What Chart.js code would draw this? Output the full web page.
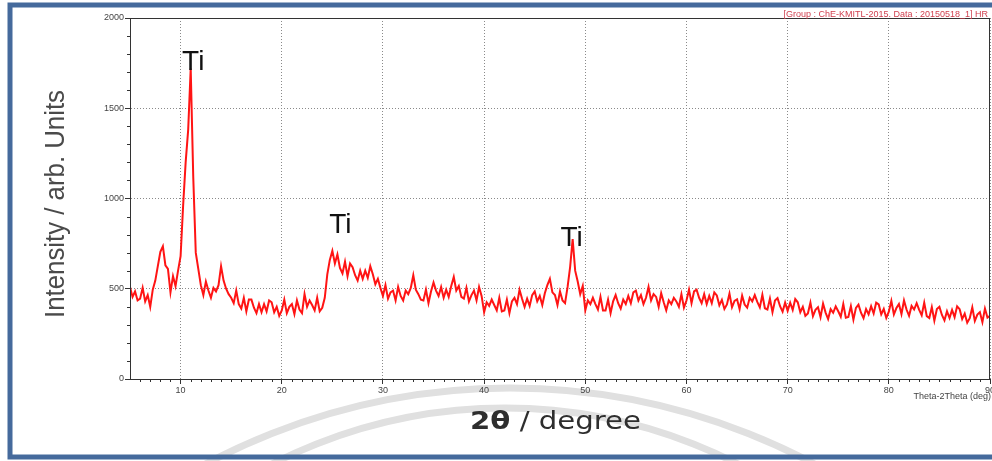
<!DOCTYPE html>
<html>
<head>
<meta charset="utf-8">
<script src="https://cdn.jsdelivr.net/npm/chart.js@4.4.1/dist/chart.umd.min.js"></script>
<style>
  html, body { margin: 0; padding: 0; background: #fff; }
  #wrap { width: 992px; height: 461px; }
</style>
</head>
<body>
<div id="wrap"><canvas id="xrdChart" width="992" height="461"></canvas></div>
<script>
'use strict';

// *********** DATA ***********
let angleStart = 5;
let angleStep = 0.25;

// intensity, 4 points per degree, 5.00 -> 90.00
let intensity = [
  510, 455, 485, 435,   // 5
  445, 505, 430, 465,   // 6
  400, 495, 545, 625,   // 7
  705, 735, 630, 610,   // 8
  480, 570, 515, 600,   // 9
  680, 960, 1200, 1380, // 10
  1720, 1120, 700, 610, // 11
  520, 465, 540, 490,   // 12
  450, 505, 485, 520,   // 13
  625, 545, 500, 470,   // 14
  450, 420, 490, 415,   // 15
  390, 450, 375, 440,   // 16
  440, 395, 365, 415,   // 17
  370, 415, 375, 435,   // 18
  425, 370, 400, 350,   // 19
  380, 440, 365, 400,   // 20
  415, 360, 435, 385,   // 21
  365, 470, 400, 435,   // 22
  410, 380, 450, 375,   // 23
  395, 450, 580, 660,   // 24
  710, 640, 690, 615,   // 25
  585, 650, 570, 640,   // 26
  620, 575, 545, 600,   // 27
  555, 600, 560, 625,   // 28
  580, 525, 555, 505,   // 29
  460, 520, 445, 480,   // 30
  490, 435, 510, 460,   // 31
  435, 490, 470, 505,   // 32
  575, 495, 470, 440,   // 33
  435, 495, 420, 485,   // 34
  535, 490, 460, 510,   // 35
  450, 495, 455, 515,   // 36
  565, 490, 515, 455,   // 37
  445, 505, 430, 465,   // 38
  490, 435, 510, 460,   // 39
  370, 425, 405, 440,   // 40
  410, 380, 450, 375,   // 41
  380, 440, 365, 430,   // 42
  450, 415, 495, 445,   // 43
  400, 445, 405, 465,   // 44
  485, 430, 460, 410,   // 45
  475, 520, 555, 480,   // 46
  465, 410, 485, 435,   // 47
  420, 510, 620, 775,   // 48
  600, 540, 470, 515,   // 49
  380, 435, 415, 450,   // 50
  415, 385, 455, 380,   // 51
  380, 440, 365, 430,   // 52
  465, 420, 390, 440,   // 53
  415, 460, 420, 480,   // 54
  490, 435, 465, 415,   // 55
  450, 510, 435, 470,   // 56
  455, 400, 475, 425,   // 57
  380, 435, 415, 450,   // 58
  430, 400, 470, 395,   // 59
  435, 495, 420, 485,   // 60
  495, 450, 420, 470,   // 61
  415, 460, 420, 480,   // 62
  463, 408, 438, 388,   // 63
  413, 473, 398, 433,   // 64
  442, 387, 462, 412,   // 65
  395, 450, 430, 465,   // 66
  427, 397, 467, 392,   // 67
  385, 445, 370, 435,   // 68
  448, 403, 373, 423,   // 69
  378, 423, 383, 443,   // 70
  425, 370, 400, 350,   // 71
  363, 423, 348, 383,   // 72
  398, 343, 418, 368,   // 73
  332, 387, 367, 402,   // 74
  375, 345, 415, 340,   // 75
  344, 404, 329, 394,   // 76
  412, 367, 337, 387,   // 77
  358, 403, 363, 423,   // 78
  413, 358, 388, 338,   // 79
  373, 433, 358, 393,   // 80
  415, 360, 435, 385,   // 81
  350, 405, 385, 420,   // 82
  383, 353, 423, 348,   // 83
  338, 398, 323, 388,   // 84
  400, 355, 325, 375,   // 85
  338, 383, 343, 403,   // 86
  387, 332, 362, 312,   // 87
  337, 397, 322, 357,   // 88
  370, 315, 390, 340,   // 89
  350                   // 90
];

let xTicks = [10, 20, 30, 40, 50, 60, 70, 80, 90];
let yTicks = [0, 500, 1000, 1500, 2000];

// peak annotations (angle, intensity at text baseline)
let peakLabels = ['Ti', 'Ti', 'Ti'];
let peakAngles = [11.25, 25.8, 48.65];
let peakLevels = [1712, 809, 737];

// ********** BUILD POINTS *************
let points = [];
for (let i = 0; i < intensity.length; i++) {
  points.push({ x: angleStart + i * angleStep, y: intensity[i] });
}

// ********** HELPERS *************
function drawSqueezed(ctx, text, x, y, targetWidth, font) {
  ctx.font = font;
  let w = ctx.measureText(text).width;
  ctx.save();
  ctx.translate(x, y);
  ctx.scale(targetWidth / w, 1);
  ctx.fillText(text, -w / 2, 0);
  ctx.restore();
}

// ********** PLUGINS *************
let decorPlugin = {
  id: 'decor',
  beforeDraw(chart) {
    let ctx = chart.ctx;
    ctx.save();
    ctx.fillStyle = '#ffffff';
    ctx.fillRect(0, 0, chart.width, chart.height);

    // faint watermark arcs under the axis
    ctx.beginPath();
    ctx.rect(0, 381, chart.width, chart.height - 381);
    ctx.clip();
    ctx.strokeStyle = '#e0e0e0';
    ctx.lineWidth = 7;
    ctx.beginPath();
    ctx.arc(510, 1035, 647, 0, Math.PI * 2);
    ctx.stroke();
    ctx.beginPath();
    ctx.arc(505, 920, 512, 0, Math.PI * 2);
    ctx.stroke();
    ctx.restore();
  },
  afterDraw(chart) {
    let ctx = chart.ctx;
    let xs = chart.scales.x;
    let ys = chart.scales.y;
    let area = chart.chartArea;
    ctx.save();

    // plot frame
    ctx.strokeStyle = '#333';
    ctx.lineWidth = 1;
    ctx.strokeRect(Math.round(area.left) + 0.5, Math.round(area.top) + 0.5,
      Math.round(area.right - area.left) - 1, Math.round(area.bottom - area.top));

    // minor ticks
    ctx.beginPath();
    for (let v = 100; v < 2000; v += 100) {
      if (v % 500 === 0) continue;
      let py = Math.round(ys.getPixelForValue(v)) + 0.5;
      ctx.moveTo(area.left - 3, py);
      ctx.lineTo(area.left, py);
    }
    for (let a = 6; a < 90; a++) {
      if (a % 10 === 0) continue;
      let px = Math.round(xs.getPixelForValue(a)) + 0.5;
      ctx.moveTo(px, area.bottom);
      ctx.lineTo(px, area.bottom + 3);
    }
    ctx.stroke();

    // peak labels
    ctx.fillStyle = '#111';
    ctx.font = '28px "Liberation Sans", Arial, sans-serif';
    ctx.textAlign = 'center';
    ctx.textBaseline = 'alphabetic';
    for (let i = 0; i < peakLabels.length; i++) {
      ctx.fillText(peakLabels[i], xs.getPixelForValue(peakAngles[i]), ys.getPixelForValue(peakLevels[i]));
    }

    // header note
    ctx.fillStyle = '#d0404f';
    ctx.font = '9px "Liberation Sans", Arial, sans-serif';
    ctx.textAlign = 'right';
    ctx.textBaseline = 'middle';
    ctx.fillText('[Group : ChE-KMITL-2015. Data : 20150518_1] HR', 988, 15);

    // unit note at the right end of the x axis
    ctx.fillStyle = '#444';
    ctx.fillText('Theta-2Theta (deg)', 991, 397);

    // axis titles
    ctx.textAlign = 'left';
    ctx.textBaseline = 'alphabetic';
    ctx.fillStyle = '#4a4a4a';
    ctx.save();
    ctx.translate(64, 204);
    ctx.rotate(-Math.PI / 2);
    drawSqueezed(ctx, 'Intensity / arb. Units', 0, 0, 228, '27px "Liberation Sans", Arial, sans-serif');
    ctx.restore();

    ctx.fillStyle = '#2e2e2e';
    ctx.font = 'bold 24px "DejaVu Sans", sans-serif';
    let partA = '2\u03b8';
    let wa = ctx.measureText(partA).width;
    ctx.font = '24px "DejaVu Sans", sans-serif';
    let partB = ' / degree';
    let wb = ctx.measureText(partB).width;
    let k = 171 / (wa + wb);
    ctx.save();
    ctx.translate(470, 429);
    ctx.scale(k, 1);
    ctx.font = 'bold 24px "DejaVu Sans", sans-serif';
    ctx.fillText(partA, 0, 0);
    ctx.font = '24px "DejaVu Sans", sans-serif';
    ctx.fillText(partB, wa, 0);
    ctx.restore();

    // blue picture frame
    ctx.strokeStyle = '#456a9c';
    ctx.lineWidth = 5;
    ctx.strokeRect(10, 5, 1000, 452);

    ctx.restore();
  }
};

// ********* CHART *******************
let ctx = document.getElementById('xrdChart').getContext('2d');

let tickFont = { family: '"Liberation Sans", Arial, sans-serif', size: 9 };

let myChart = new Chart(ctx, {
  type: 'line',
  data: {
    datasets: [{
      data: points,
      borderColor: '#ff1414',
      borderWidth: 2,
      pointRadius: 0,
      tension: 0,
      fill: false
    }]
  },
  options: {
    responsive: false,
    animation: false,
    events: [],
    layout: { padding: { top: 18, right: 2, left: 0, bottom: 0 } },
    plugins: {
      legend: { display: false },
      tooltip: { enabled: false }
    },
    scales: {
      x: {
        type: 'linear',
        min: 5,
        max: 90,
        afterBuildTicks: (scale) => { scale.ticks = xTicks.map(v => ({ value: v })); },
        afterFit: (scale) => { scale.height = 82; scale.paddingLeft = 0; scale.paddingRight = 0; },
        ticks: { font: tickFont, color: '#444', padding: 1, maxRotation: 0, autoSkip: false,
          callback: (v) => String(v) },
        grid: { color: '#8a8a8a', lineWidth: 1, tickLength: 5, tickColor: '#333', tickBorderDash: [] },
        border: { display: true, color: '#333', width: 1, dash: [1, 2] }
      },
      y: {
        min: 0,
        max: 2000,
        afterBuildTicks: (scale) => { scale.ticks = yTicks.map(v => ({ value: v })); },
        afterFit: (scale) => { scale.width = 130; scale.paddingTop = 0; scale.paddingBottom = 0; },
        ticks: { font: tickFont, color: '#444', padding: 1, callback: (v) => String(v) },
        grid: { color: '#8a8a8a', lineWidth: 1, tickLength: 5, tickColor: '#333', tickBorderDash: [] },
        border: { display: true, color: '#333', width: 1, dash: [1, 2] }
      }
    }
  },
  plugins: [decorPlugin]
});
</script>
</body>
</html>
